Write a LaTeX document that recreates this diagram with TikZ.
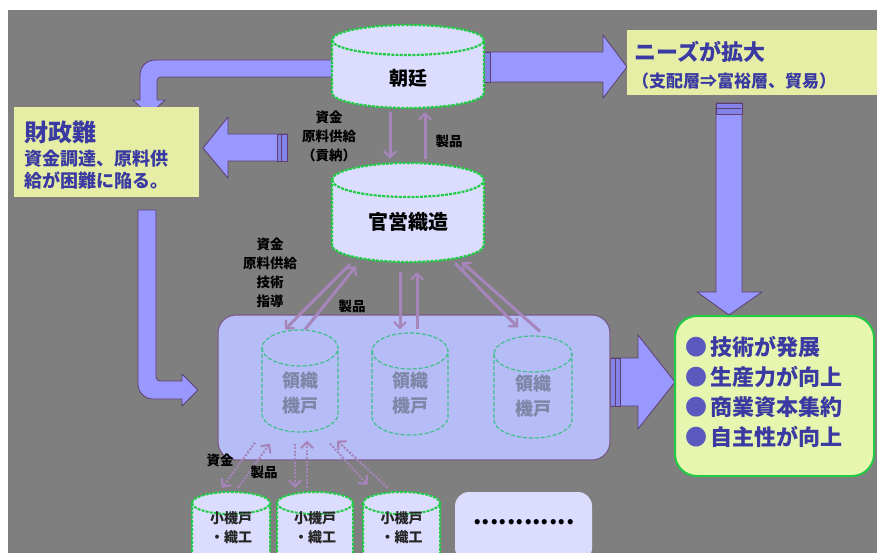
\documentclass[tikz,border=0pt]{standalone}
\usepackage{fontspec}
\setmainfont{Noto Sans CJK JP}
\usetikzlibrary{arrows.meta,calc}

\definecolor{bggray}{HTML}{7F7F7F}
\definecolor{cylfill}{HTML}{DCDCFF}
\definecolor{cylgreen}{HTML}{1FCC44}
\definecolor{blockfill}{HTML}{9898FF}
\definecolor{blockline}{HTML}{5E3E6E}
\definecolor{blockband}{HTML}{8484E8}
\definecolor{notefill}{HTML}{E5EEA4}
\definecolor{resultfill}{HTML}{E6F6AE}
\definecolor{notetext}{HTML}{3A3AA2}
\definecolor{bulletc}{HTML}{5A5ABE}
\definecolor{areafill}{HTML}{B6BCF6}
\definecolor{arealine}{HTML}{7C5C84}
\definecolor{innergreen}{HTML}{3FBF8A}
\definecolor{innertext}{HTML}{7E86A6}
\definecolor{linkc}{HTML}{A585BA}

% vertical cylinder: style, left x, top y, right x, bottom y, end radius (y grows downwards)
\newcommand\drawcylinder[6]{%
  \path[#1] (#2,{-(#3)-(#6)}) -- (#2,{-(#5)+(#6)})
    arc[start angle=180,end angle=360,x radius={((#4)-(#2))/2},y radius=#6]
    -- (#4,{-(#3)-(#6)})
    arc[start angle=0,end angle=180,x radius={((#4)-(#2))/2},y radius=#6] -- cycle;
  \path[#1,fill=none] (#2,{-(#3)-(#6)})
    arc[start angle=180,end angle=360,x radius={((#4)-(#2))/2},y radius=#6];
}

\tikzset{
  block/.style={fill=blockfill, draw=blockline, line width=0.8pt, line join=miter},
  band/.style={fill=blockband, draw=blockline, line width=0.6pt},
  bigcyl/.style={fill=cylfill, draw=cylgreen, line width=2.2pt, dash pattern=on 3pt off 1.2pt},
  smallcyl/.style={fill=cylfill, draw=cylgreen, line width=2pt, dash pattern=on 3pt off 1.2pt},
  innercyl/.style={fill=areafill, draw=innergreen, line width=1.2pt, dash pattern=on 4pt off 2pt},
  slot/.style 2 args={inner sep=0pt, minimum width=#1pt, minimum height=#2pt},
  cyltext/.style={font=\bfseries\fontsize{19}{22}\selectfont, text=black, inner sep=0pt},
  innerlabel/.style={font=\bfseries\fontsize{18}{25}\selectfont, text=innertext, align=center, inner sep=0pt},
  smalllabel/.style={font=\bfseries\fontsize{14}{19}\selectfont, text=black!85, align=center, inner sep=0pt},
  flowlabel/.style={font=\bfseries\fontsize{13.5}{19}\selectfont, text=black, align=center, inner sep=0pt},
  link/.style={draw=linkc, line width=3pt, -{Straight Barb[length=6pt,width=12pt,line width=2.2pt]}},
  dotlink/.style={link, line width=2.2pt, dash pattern=on 2pt off 1.6pt},
  bullet/.style={font=\bfseries\fontsize{22}{22}\selectfont, text=notetext, anchor=west, inner sep=0pt}
}

\begin{document}
\begin{tikzpicture}[x=1pt,y=1pt]
\useasboundingbox (0,0) rectangle (877,-553);
\fill[white] (0,0) rectangle (877,-553);
\fill[bggray] (8,-10) rectangle (877,-553);
\begin{scope}
\clip (8,-10) rectangle (877,-553);

% ---------- block arrows ----------
% court -> financial difficulty (bent)
\path[block] (340,-60) -- (155,-60) arc[start angle=90,end angle=180,radius=15]
  -- (140,-100) -- (133,-100) -- (149,-115) -- (165,-100) -- (157,-100) -- (157,-81)
  arc[start angle=180,end angle=90,radius=4] -- (340,-77) -- cycle;
% court -> needs
\path[block] (480,-52) -- (603,-52) -- (603,-35) -- (627,-67) -- (603,-98) -- (603,-82) -- (480,-82) -- cycle;
\path[band] (484,-52) rectangle (490,-82);
% back to financial difficulty
\path[block] (287,-134) -- (228,-134) -- (228,-117) -- (203,-148) -- (228,-178) -- (228,-161) -- (287,-161) -- cycle;
\path[band] (277,-134) rectangle (281,-161);
\path[band] (281,-134) rectangle (287,-161);
% needs -> results
\path[block] (716,-103) -- (716,-292) -- (697,-292) -- (729,-315) -- (762,-292) -- (742,-292) -- (742,-103) -- cycle;
\path[band] (716,-103) rectangle (742,-108);
\path[band] (716,-108) rectangle (742,-114);
% financial difficulty -> weaving area (L-shaped)
\path[block] (138,-210) -- (138,-384) arc[start angle=180,end angle=270,radius=15]
  -- (182,-399) -- (182,-406) -- (198,-390) -- (182,-374) -- (182,-381) -- (160,-381)
  arc[start angle=270,end angle=180,radius=4] -- (156,-210) -- cycle;
% weaving area -> results
\path[block] (606,-358) -- (638,-358) -- (638,-335) -- (675,-382) -- (638,-429) -- (638,-406) -- (606,-406) -- cycle;
\path[band] (610,-358) rectangle (615,-406);
\path[band] (615,-358) rectangle (620,-406);

% ---------- text boxes ----------
\node[fill=notefill, inner sep=0pt, minimum width=185pt, minimum height=90pt] (zaisei) at (106.5,-152) {};
\node[anchor=west, inner sep=0pt, text=notetext, font=\bfseries\fontsize{24}{24}\selectfont] (zaiseiT) at (24,-132) {財政難};
\node[anchor=north west, inner sep=0pt, text=notetext, align=left, font=\bfseries\fontsize{18}{22}\selectfont] (zaiseiD) at (24,-150) {資金調達、原料供\\給が困難に陥る。};

\node[fill=notefill, inner sep=0pt, minimum width=260pt, minimum height=65pt] (needs) at (757,-62.5) {};
\node[anchor=west, inner sep=0pt, text=notetext, font=\bfseries\fontsize{22}{22}\selectfont] (needsT) at (634,-52) {ニーズが拡大};
\node[anchor=west, inner sep=0pt, text=notetext, font=\bfseries\fontsize{17}{17}\selectfont] (needsD) at (632,-81) {（支配層⇒富裕層、貿易）};

\node[fill=resultfill, draw=cylgreen, line width=2pt, rounded corners=22pt, inner sep=0pt,
      minimum width=199pt, minimum height=160pt] (result) at (774.5,-396) {};
\node[bullet] (r1) at (685,-347) {{\color{bulletc}●}\hspace{3pt}技術が発展};
\node[bullet] (r2) at (685,-377) {{\color{bulletc}●}\hspace{3pt}生産力が向上};
\node[bullet] (r3) at (685,-407) {{\color{bulletc}●}\hspace{3pt}商業資本集約};
\node[bullet] (r4) at (685,-437) {{\color{bulletc}●}\hspace{3pt}自主性が向上};

% ---------- court and state workshop ----------
\drawcylinder{bigcyl}{332}{25}{484}{108}{15}
\node[slot={152}{83}] (chotei) at (408,-66.5) {};
\node[cyltext] (choteiT) at (408,-78) {朝廷};

\drawcylinder{bigcyl}{332}{163}{484}{262}{17}
\node[slot={152}{99}] (kanei) at (408,-212.5) {};
\node[cyltext, font=\bfseries\fontsize{20}{22}\selectfont] (kaneiT) at (408,-222) {官営織造};

% ---------- weaving households area ----------
\node[fill=areafill, draw=arealine, line width=1.2pt, rounded corners=18pt, inner sep=0pt,
      minimum width=392pt, minimum height=145pt] (area) at (414,-387.5) {};
\drawcylinder{innercyl}{262}{330}{338}{432}{18}
\drawcylinder{innercyl}{372}{333}{448}{435}{18}
\drawcylinder{innercyl}{494}{336}{572}{438}{18}
\node[innerlabel] (h1) at (300,-393) {領織\\機戸};
\node[innerlabel] (h2) at (410,-393) {領織\\機戸};
\node[innerlabel] (h3) at (533,-396) {領織\\機戸};

% ---------- small households ----------
\drawcylinder{smallcyl}{192}{492}{270}{580}{11}
\drawcylinder{smallcyl}{277}{492}{353}{580}{11}
\drawcylinder{smallcyl}{363}{492}{440}{580}{11}
\node[slot={78}{70}] (s1) at (231,-527) {};
\node[slot={76}{70}] (s2) at (315,-527) {};
\node[slot={77}{70}] (s3) at (401.5,-527) {};
\node[smalllabel] (s1T) at (231,-527.5) {小機戸\\・織工};
\node[smalllabel] (s2T) at (315,-527.5) {小機戸\\・織工};
\node[smalllabel] (s3T) at (401.5,-527.5) {小機戸\\・織工};
\node[fill=cylfill, rounded corners=14pt, inner sep=0pt, minimum width=137pt, minimum height=70pt] (more) at (523.5,-527) {};
\node[inner sep=0pt, font=\bfseries\fontsize{24}{24}\selectfont] (moreT) at (524,-522) {............};

% ---------- flows ----------
\draw[link] ($(chotei.south)+(-18,-4)$) -- ($(kanei.north)+(-18,4)$);
\draw[link] ($(kanei.north)+(17,4)$) -- ($(chotei.south)+(17,-4)$);

\draw[link] ($(kanei.south)+(-58,-2)$) -- ($(area.north)+(-129,-15)$);
\draw[link] ($(area.north)+(-109,-15)$) -- ($(kanei.south)+(-52,-4)$);
\draw[link] ($(kanei.south)+(-8,-10)$) -- ($(area.north)+(-14,-15)$);
\draw[link] ($(area.north)+(3,-15)$) -- ($(kanei.south)+(9,-10)$);
\draw[link] ($(kanei.south)+(47,-1)$) -- ($(area.north)+(104,-13)$);
\draw[link] ($(area.north)+(126,-17)$) -- ($(kanei.south)+(54,0)$);

\draw[dotlink] ($(area.south)+(-159,18)$) -- ($(s1.north)+(-9,4)$);
\draw[dotlink] ($(s1.north)+(7,4)$) -- ($(area.south)+(-144,17)$);
\draw[dotlink] ($(area.south)+(-119,17)$) -- ($(s2.north)+(-20,4)$);
\draw[dotlink] ($(s2.north)+(-8,4)$) -- ($(area.south)+(-107,20)$);
\draw[dotlink] ($(area.south)+(-84,17)$) -- ($(s3.north)+(-34,7)$);
\draw[dotlink] ($(s3.north)+(-14,4)$) -- ($(area.south)+(-77,20)$);

% ---------- flow labels ----------
\node[flowlabel] (f1) at (329,-136) {資金\\原料供給\\（貢納）};
\node[flowlabel] (f2) at (449,-141) {製品};
\node[flowlabel] (f3) at (270,-273) {資金\\原料供給\\技術\\指導};
\node[flowlabel] (f4) at (352,-306) {製品};
\node[flowlabel] (f5) at (220,-460) {資金};
\node[flowlabel] (f6) at (264,-472) {製品};
\end{scope}
\end{tikzpicture}
\end{document}
